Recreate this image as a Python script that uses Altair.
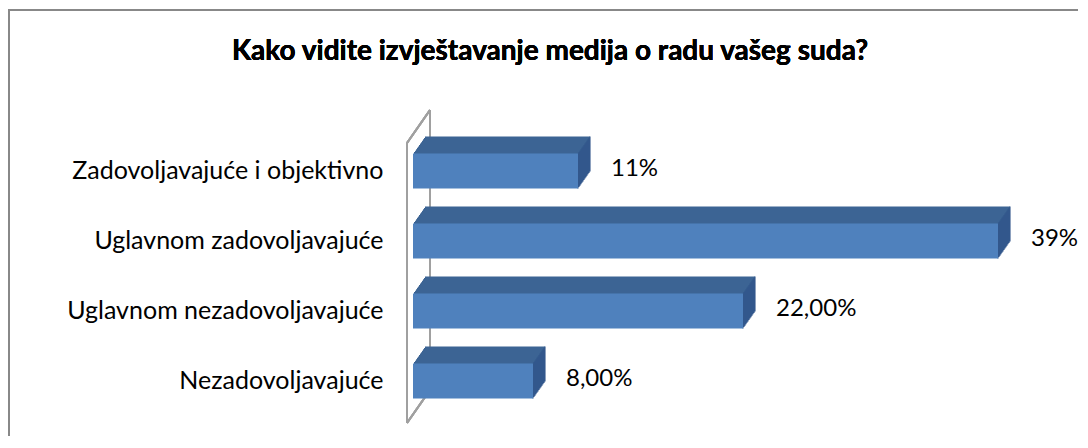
import altair as alt
import pandas as pd

categories = ["Zadovoljavajuće i objektivno", "Uglavnom zadovoljavajuće",
              "Uglavnom nezadovoljavajuće", "Nezadovoljavajuće"]
values = [11, 39, 22, 8]
labels = ["11%", "39%", "22,00%", "8,00%"]
title_text = "Kako vidite izvještavanje medija o radu vašeg suda?"

df = pd.DataFrame({"cat": categories, "val": values, "lab": labels})

FRONT = "#4f81bd"
TOP = "#3c6494"
SIDE = "#30568a"
FONT = "Lato"

N = 12
DX = 12.0 / N
DY = 17.0 / N

x_enc = alt.X("val:Q", scale=alt.Scale(domain=[0, 44], nice=False), axis=None)
y_scale = alt.Scale(paddingInner=0.5, paddingOuter=0.25)
y_axis = alt.Y("cat:N", sort=categories, scale=y_scale,
               axis=alt.Axis(title=None, ticks=False, domain=False,
                             labelFontSize=25, labelFont=FONT, labelColor="#000000",
                             labelPadding=30, labelLimit=400))

base = alt.Chart(df)

layers = []
# back wall lines (decoration)
wall = [(-6, 7, -6, 287), (17, -26, 17, 254), (-6, 7, 17, -26), (-6, 287, 17, 254)]
for (x1, y1, x2, y2) in wall:
    layers.append(base.mark_rule(color="#a0a0a0", strokeWidth=2).encode(
        x=alt.value(x1), x2=alt.value(x2), y=alt.value(y1), y2=alt.value(y2)))

# top faces (extrusion)
for k in range(N, 0, -1):
    layers.append(base.mark_bar(color=TOP, xOffset=k * DX, yOffset=-k * DY).encode(
        x=x_enc, y=y_axis))
# side faces
for k in range(N, -1, -1):
    layers.append(base.mark_tick(color=SIDE, orient="vertical", size=35, thickness=1.6,
                                 xOffset=k * DX, yOffset=-k * DY).encode(
        x=x_enc, y=y_axis))
# front faces
layers.append(base.mark_bar(color=FRONT).encode(x=x_enc, y=y_axis))
# value labels
layers.append(base.mark_text(align="left", baseline="middle", dx=33, dy=-2,
                             fontSize=24, font=FONT, color="#000000").encode(
    x=x_enc, y=y_axis, text="lab:N"))
# title
layers.append(base.mark_text(
    align="center", baseline="alphabetic", fontSize=28, font=FONT,
    fontWeight="bold", color="#000000").encode(
    x=alt.value(137), y=alt.value(-76), text=alt.value(title_text)))
# outer border
layers.append(base.mark_rule(color="#888888", strokeWidth=2).encode(
    x=alt.value(-405), x2=alt.value(665), y=alt.value(-126), y2=alt.value(-126)))
layers.append(base.mark_rule(color="#888888", strokeWidth=2).encode(
    x=alt.value(-404), x2=alt.value(-404), y=alt.value(-126), y2=alt.value(300)))

chart = alt.layer(*layers).properties(
    width=660, height=280,
    autosize=alt.AutoSizeParams(type="none"),
    padding={"left": 405, "top": 128, "right": 7, "bottom": 24},
).configure_view(stroke=None)

chart.save("out.html", embed_options={"renderer": "svg", "actions": False})
